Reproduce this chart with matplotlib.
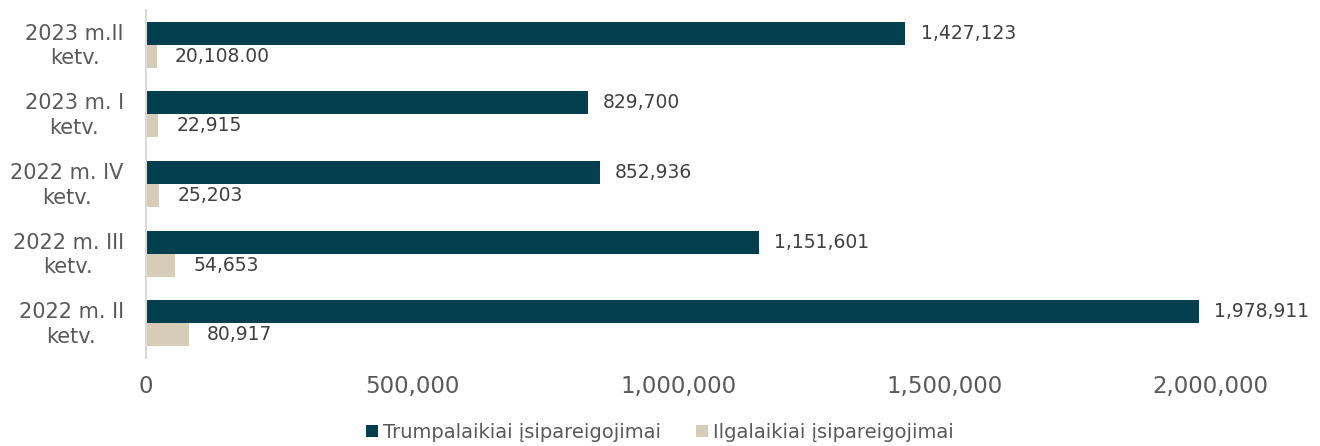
import matplotlib
matplotlib.use("Agg")
import matplotlib.pyplot as plt
import matplotlib.transforms as mtransforms
import numpy as np
from matplotlib.ticker import FuncFormatter

categories = ["2023 m.II\nketv.", "2023 m. I\nketv.", "2022 m. IV\nketv.", "2022 m. III\nketv.", "2022 m. II\nketv."]
short_term = [1427123, 829700, 852936, 1151601, 1978911]
long_term = [20108.00, 22915, 25203, 54653, 80917]
short_labels = ["1,427,123", "829,700", "852,936", "1,151,601", "1,978,911"]
long_labels = ["20,108.00", "22,915", "25,203", "54,653", "80,917"]
series_names = ["Trumpalaikiai įsipareigojimai", "Ilgalaikiai įsipareigojimai"]

plt.rcParams['font.family'] = ['DejaVu Sans']
text_col = "#595959"
dark = "#033f4e"
beige = "#d6ccb8"

fig = plt.figure(figsize=(13.2, 4.46), dpi=100)
ax = fig.add_axes([0.1106, 0.197, 0.8466, 0.781])

y = np.arange(len(categories))
h = 0.33
b1 = ax.barh(y - h / 2, short_term, height=h, color=dark, label=series_names[0])
b2 = ax.barh(y + h / 2, long_term, height=h, color=beige, label=series_names[1])
ax.bar_label(b1, labels=short_labels, padding=11, fontsize=13.5, color="#404040")
ax.bar_label(b2, labels=long_labels, padding=13, fontsize=13.5, color="#404040")

ax.set_ylim(len(categories) - 0.5, -0.5)
ax.set_xlim(0, 2100000)
ax.set_yticks(y)
ax.set_yticklabels(categories, fontsize=15, color=text_col, linespacing=1.3,
                   multialignment="center")
ax.set_xticks([0, 500000, 1000000, 1500000, 2000000])
ax.xaxis.set_major_formatter(FuncFormatter(lambda v, p: f"{int(v):,}"))
ax.tick_params(axis='x', labelsize=16.5, labelcolor=text_col, length=0, pad=12)
ax.tick_params(axis='y', length=0, pad=16)
for s in ["top", "right", "bottom"]:
    ax.spines[s].set_visible(False)
ax.spines["left"].set_color("#d9d9d9")
ax.spines["left"].set_linewidth(1.5)

offset = mtransforms.ScaledTranslation(0, 3 / 100, fig.dpi_scale_trans)
for lbl in ax.get_yticklabels():
    lbl.set_transform(lbl.get_transform() + offset)

leg = fig.legend(handles=[b1, b2], labels=series_names, loc="lower center",
                 bbox_to_anchor=(0.5, -0.03), ncol=2, frameon=False, fontsize=14,
                 handlelength=0.62, handleheight=0.62, handletextpad=0.26, columnspacing=1.8)
for t in leg.get_texts():
    t.set_color(text_col)

fig.savefig("out.png", dpi=100)
